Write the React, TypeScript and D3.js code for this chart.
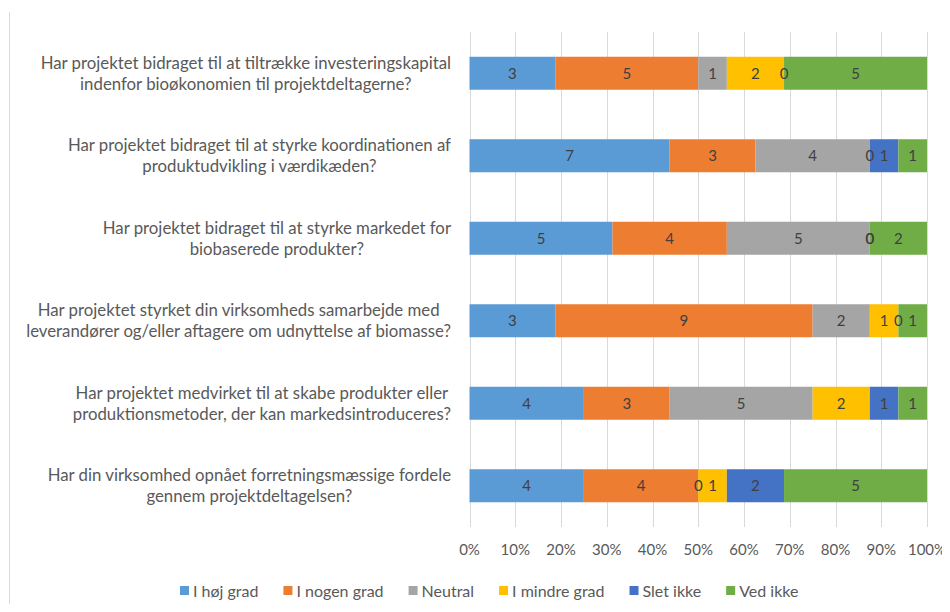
import React, { useEffect, useRef } from "react";
import * as d3 from "d3";

const questions = [
  ["Har projektet bidraget til at tiltrække investeringskapital", "indenfor bioøkonomien til projektdeltagerne?"],
  ["Har projektet bidraget til at styrke koordinationen af", "produktudvikling i værdikæden?"],
  ["Har projektet bidraget til at styrke markedet for", "biobaserede produkter?"],
  ["Har projektet styrket din virksomheds samarbejde med", "leverandører og/eller aftagere om udnyttelse af biomasse?"],
  ["Har projektet medvirket til at skabe produkter eller", "produktionsmetoder, der kan markedsintroduceres?"],
  ["Har din virksomhed opnået forretningsmæssige fordele", "gennem projektdeltagelsen?"],
];

const seriesNames = ["I høj grad", "I nogen grad", "Neutral", "I mindre grad", "Slet ikke", "Ved ikke"];
const seriesColors = ["#5B9BD5", "#ED7D31", "#A5A5A5", "#FFC000", "#4472C4", "#70AD47"];

const hojGrad = [3, 7, 5, 3, 4, 4];
const nogenGrad = [5, 3, 4, 9, 3, 4];
const neutral = [1, 4, 5, 2, 5, 0];
const mindreGrad = [2, 0, 0, 1, 2, 1];
const sletIkke = [0, 1, 0, 0, 1, 2];
const vedIkke = [5, 1, 2, 1, 1, 5];

const ticks = [0, 0.1, 0.2, 0.3, 0.4, 0.5, 0.6, 0.7, 0.8, 0.9, 1];

const FONT = "Lato, 'Open Sans', sans-serif";

export default function App() {
  const ref = useRef<SVGSVGElement>(null);

  useEffect(() => {
    const svg = d3.select(ref.current);
    svg.selectAll("*").remove();

    const all = [hojGrad, nogenGrad, neutral, mindreGrad, sletIkke, vedIkke];
    const rows = questions.map((q, i) => {
      const vals = all.map((s) => s[i]);
      const total = d3.sum(vals);
      let acc = 0;
      const segs = vals.map((v, k) => {
        const s = { k, v, x0: acc / total, x1: (acc + v) / total };
        acc += v;
        return s;
      });
      return { i, segs };
    });

    const x = d3.scaleLinear().domain([0, 1]).range([469.5, 927]);
    const y = d3.scaleBand<number>().domain(d3.range(questions.length)).range([32, 527]).paddingInner(0.6).paddingOuter(0.3);

    // outer chart border (left edge visible)
    svg.append("line").attr("x1", 9.5).attr("x2", 9.5).attr("y1", 12).attr("y2", 612).attr("stroke", "#D9D9D9");

    // gridlines
    svg.append("g").selectAll("line").data(ticks).join("line")
      .attr("x1", (d) => Math.round(x(d)) + 0.5).attr("x2", (d) => Math.round(x(d)) + 0.5)
      .attr("y1", 32).attr("y2", 527)
      .attr("stroke", "#D9D9D9").attr("stroke-width", 1);

    // bars
    const g = svg.append("g");
    rows.forEach((r) => {
      g.selectAll(null).data(r.segs).join("rect")
        .attr("x", (d) => x(d.x0)).attr("width", (d) => x(d.x1) - x(d.x0))
        .attr("y", y(r.i)!).attr("height", y.bandwidth())
        .attr("fill", (d) => seriesColors[d.k]);
      g.selectAll(null).data(r.segs).join("text")
        .attr("x", (d) => (x(d.x0) + x(d.x1)) / 2)
        .attr("y", y(r.i)! + y.bandwidth() / 2)
        .attr("dy", "0.35em")
        .attr("text-anchor", "middle")
        .attr("font-family", FONT).attr("font-size", 15)
        .attr("fill", "#404040")
        .text((d) => d.v);
    });

    // x axis labels
    svg.append("g").selectAll("text").data(ticks).join("text")
      .attr("x", (d) => x(d)).attr("y", 550).attr("dy", "0.35em")
      .attr("text-anchor", "middle")
      .attr("font-family", FONT).attr("font-size", 15)
      .attr("fill", "#595959")
      .text(d3.format(".0%"));

    // category labels: centered lines, block right-aligned
    const right = 451;
    questions.forEach((q, i) => {
      const cy = y(i)! + y.bandwidth() / 2;
      const tg = svg.append("g");
      const texts = tg.selectAll("text").data(q).join("text")
        .attr("y", (_, j) => cy + (j - 0.5) * 21).attr("dy", "0.35em")
        .attr("text-anchor", "middle")
        .attr("font-family", FONT).attr("font-size", 16.8)
        .attr("fill", "#595959")
        .text((d) => d);
      let w = 0;
      texts.each(function () {
        w = Math.max(w, (this as SVGTextElement).getComputedTextLength());
      });
      texts.attr("x", right - w / 2);
    });

    // legend
    const legend = svg.append("g");
    let lx = 180;
    seriesNames.forEach((name, k) => {
      legend.append("rect").attr("x", lx).attr("y", 586).attr("width", 9).attr("height", 9).attr("fill", seriesColors[k]);
      const t = legend.append("text").attr("x", lx + 13).attr("y", 591).attr("dy", "0.35em")
        .attr("font-family", FONT).attr("font-size", 16).attr("fill", "#595959").text(name);
      const tw = (t.node() as SVGTextElement).getComputedTextLength();
      lx += 13 + tw + 25;
    });
  }, []);

  return (
    <div style={{ margin: -8 }}>
      <svg ref={ref} width={950} height={612} style={{ display: "block", background: "#fff" }} />
    </div>
  );
}
